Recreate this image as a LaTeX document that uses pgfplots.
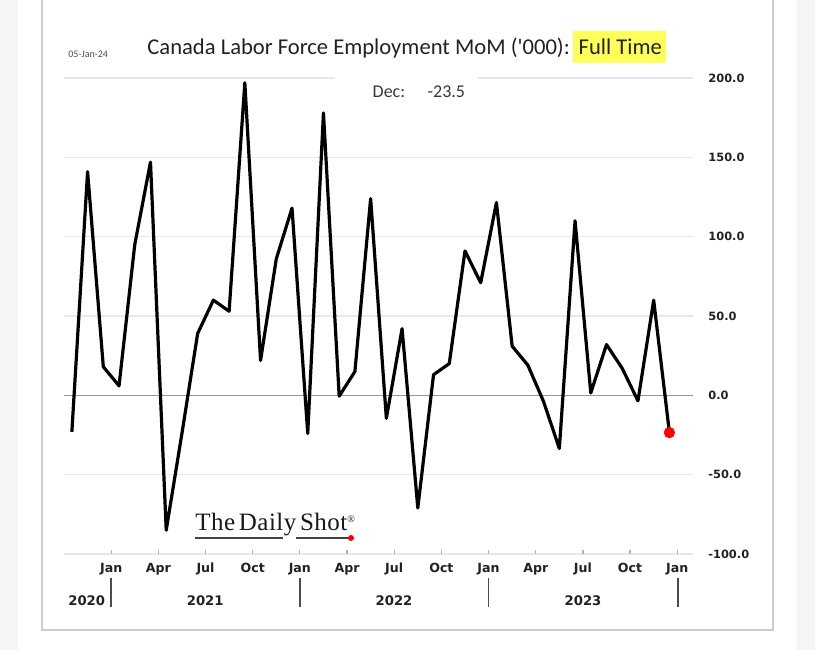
\documentclass[border=0pt]{standalone}
\usepackage{fontspec}
\setmainfont{Carlito}
\newfontfamily\tickfont{DejaVu Sans}
\newfontfamily\logofont{Liberation Serif}[LetterSpace=2]
\usepackage{pgfplots}
\pgfplotsset{compat=1.18}
\definecolor{hl}{RGB}{255,255,90}
\definecolor{gridc}{RGB}{232,232,232}
\definecolor{zeroc}{RGB}{150,150,150}
\definecolor{framec}{RGB}{205,205,205}
\definecolor{outc}{RGB}{245,245,245}
\definecolor{txt}{RGB}{34,34,34}

\pgfplotstableread{
x y
-2.5 -23
-1.5 141
-0.5 18
0.5 6
1.5 95
2.5 147
3.5 -85
4.5 -24
5.5 39
6.5 60
7.5 53
8.5 197
9.5 22
10.5 86
11.5 118
12.5 -24
13.5 178
14.5 -0.5
15.5 15
16.5 124
17.5 -14.5
18.5 42
19.5 -71
20.5 13
21.5 20
22.5 91
23.5 71
24.5 121.5
25.5 31
26.5 19
27.5 -4
28.5 -33.5
29.5 110
30.5 1.5
31.5 32
32.5 17
33.5 -3.5
34.5 60
35.5 -23.5
}\fulltime

\begin{document}
\begin{tikzpicture}
\useasboundingbox (0,0) rectangle (407.5pt,-325pt);
\begin{scope}[x=0.5pt,y=-0.5pt]
\fill[white] (0,0) rectangle (815,650);
\fill[outc] (0,0) rectangle (18,650);
\fill[outc] (797,0) rectangle (815,650);
\draw[framec, line width=0.7pt] (42,-5) -- (42,630) -- (773,630) -- (773,-5);
\end{scope}

\begin{axis}[
  at={(32pt,-277pt)}, anchor=south west,
  scale only axis, width=314.5pt, height=238pt,
  xmin=-3, xmax=37, ymin=-100, ymax=200,
  axis line style={draw=none},
  xtick={0,3,...,36},
  xticklabels={Jan,Apr,Jul,Oct,Jan,Apr,Jul,Oct,Jan,Apr,Jul,Oct,Jan},
  xtick pos=lower, xtick align=inside,
  major tick length=2pt,
  x tick style={gray!60, line width=0.6pt},
  x tick label style={font=\tickfont\bfseries\fontsize{6.3}{7}\selectfont, text=txt, inner sep=0pt, yshift=-4.3pt},
  ytick={-100,-50,...,200},
  yticklabels={-100.0,-50.0,0.0,50.0,100.0,150.0,200.0},
  yticklabel pos=upper,
  y tick style={draw=none},
  y tick label style={font=\tickfont\bfseries\fontsize{5.7}{7}\selectfont, text=txt, inner sep=0pt, anchor=west, xshift=7.5pt},
  ymajorgrids, major grid style={gridc, line width=0.6pt},
  clip=false,
]
\draw[zeroc, line width=0.7pt] (axis cs:-3,0) -- (axis cs:37,0);
\addplot[black, line width=1.6pt, line join=round] table[x=x,y=y] {\fulltime};
\addplot[only marks, mark=*, mark size=2.6pt, red] coordinates {(35.5,-23.5)};
\end{axis}

\begin{scope}[x=0.5pt,y=-0.5pt]
\fill[white] (335,72) rectangle (478,84);
\foreach \xx in {111,300,488.5,678} \draw[black!70, line width=0.6pt] (\xx,578) -- (\xx,607);
\foreach \xx/\yy in {86.7/2020,205.2/2021,394/2022,583/2023}
  \node[font=\tickfont\bfseries\fontsize{6.6}{8}\selectfont, text=txt, inner sep=0pt] at (\xx,601) {\yy};
\node[anchor=base west, inner sep=0pt, text=txt] (t) at (147,54) {\fontsize{11.3}{13}\selectfont Canada Labor Force Employment MoM (\textquotesingle000):};
\node[anchor=base west, fill=hl, inner xsep=1.8pt, inner ysep=0pt, text height=11.5pt, text depth=4.6pt, text=txt] at ([xshift=1pt]t.base east) {\fontsize{11.3}{13}\selectfont\hspace{1.2pt}Full Time};
\node[anchor=base west, inner sep=0pt, text=txt!90] at (372.3,97.3) {\fontsize{9}{11}\selectfont Dec:};
\node[anchor=base west, inner sep=0pt, text=txt!90] at (427.3,97.3) {\fontsize{9}{11}\selectfont -23.5};
\node[anchor=base west, inner sep=0pt, text=black!70] at (68,57.5) {\fontsize{5}{6}\selectfont 05-Jan-24};
\node[anchor=base west, inner sep=0pt, text=black!90] at (195,530) {\logofont\fontsize{12.5}{14}\selectfont The\hspace{1.8pt}Daily\hspace{1.8pt}Shot\raisebox{4pt}{\fontsize{5}{6}\selectfont ®}};
\draw[black!75, line width=0.8pt] (195,538) -- (283,538);
\draw[black!75, line width=0.8pt] (296,538) -- (350,538);
\fill[red] (351,538) circle (3);
\end{scope}
\end{tikzpicture}
\end{document}
